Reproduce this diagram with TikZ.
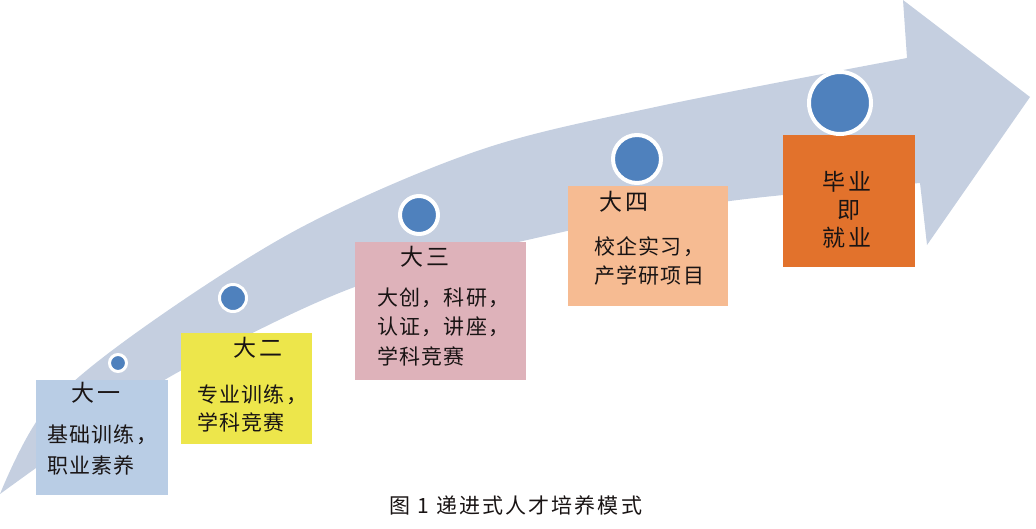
\documentclass[tikz,border=0pt]{standalone}
\usepackage{fontspec}
\setmainfont{Noto Sans CJK SC}
\newfontfamily\cjk{Noto Sans CJK SC}[LetterSpace=6]
\newfontfamily\cjkh{Noto Sans CJK SC}[LetterSpace=10]
\newfontfamily\capfont{Noto Sans CJK SC}[LetterSpace=10]
\definecolor{arrowc}{RGB}{197,207,224}
\definecolor{dotc}{RGB}{79,129,189}
\definecolor{boxa}{RGB}{185,205,229}
\definecolor{boxb}{RGB}{237,230,75}
\definecolor{boxc}{RGB}{222,178,186}
\definecolor{boxd}{RGB}{246,187,146}
\definecolor{boxe}{RGB}{226,114,44}
\definecolor{txt}{RGB}{25,20,20}
\begin{document}
\begin{tikzpicture}[x=1pt,y=-1pt,
  panel/.style={inner sep=0pt,outer sep=0pt,draw=none},
  dot/.style={circle,fill=dotc,draw=white,inner sep=0pt},
  head/.style={inner sep=0pt,text=txt,font=\cjkh\fontsize{23}{25}\selectfont},
  body/.style={inner sep=0pt,anchor=west,text=txt,font=\cjk\fontsize{21}{23}\selectfont}]
\useasboundingbox (0,0) rectangle (1036,528);
% big arrow
\fill[arrowc] plot[smooth,tension=0.55] coordinates {(0,494) (45,410) (140,330) (300,228) (480,150) (660,106) (907,58)}
  -- (903,0) -- (1030,97) -- (927,245) -- (920,183)
  -- plot[smooth,tension=0.55] coordinates {(920,183) (730,201) (567,231) (360,285) (182,370) (80,437) (0,494)} -- cycle;
% boxes
\node[panel,fill=boxa,minimum width=132pt,minimum height=115pt] (b1) at (102,437.5) {};
\node[panel,fill=boxb,minimum width=131pt,minimum height=111pt] (b2) at (246.5,388.5) {};
\node[panel,fill=boxc,minimum width=171pt,minimum height=138pt] (b3) at (440.5,311) {};
\node[panel,fill=boxd,minimum width=160pt,minimum height=120pt] (b4) at (648,246) {};
\node[panel,fill=boxe,minimum width=132pt,minimum height=132pt] (b5) at (849,201) {};
% texts
\node[head] (t1h) at (96,393) {大一};
\node[body] (t1a) at (47,435) {基础训练，};
\node[body] (t1b) at (47,465) {职业素养};
\node[head] (t2h) at (258,348) {大二};
\node[body] (t2a) at (197,395) {专业训练，};
\node[body] (t2b) at (197,422) {学科竞赛};
\node[head] (t3h) at (425,257) {大三};
\node[body] (t3a) at (377,298) {大创，科研，};
\node[body] (t3b) at (377,327) {认证，讲座，};
\node[body] (t3c) at (377,356) {学科竞赛};
\node[head] (t4h) at (624,202) {大四};
\node[body] (t4a) at (594,247) {校企实习，};
\node[body] (t4b) at (594,275) {产学研项目};
\node[head] (t5a) at (847,182) {毕业};
\node[head] (t5b) at (849,210) {即};
\node[head] (t5c) at (847,238) {就业};
% dots
\node[dot,minimum size=17pt,line width=3pt] (k1) at (118,363) {};
\node[dot,minimum size=27pt,line width=3pt] (k2) at (233,298) {};
\node[dot,minimum size=38pt,line width=4pt] (k3) at (419,215) {};
\node[dot,minimum size=48pt,line width=4pt] (k4) at (637,159) {};
\node[dot,minimum size=62pt,line width=4pt] (k5) at (840,103) {};
% caption
\node[inner sep=0pt,text=txt,font=\capfont\fontsize{21}{23}\selectfont] (cap) at (516,505) {图 1 递进式人才培养模式};
\end{tikzpicture}
\end{document}
